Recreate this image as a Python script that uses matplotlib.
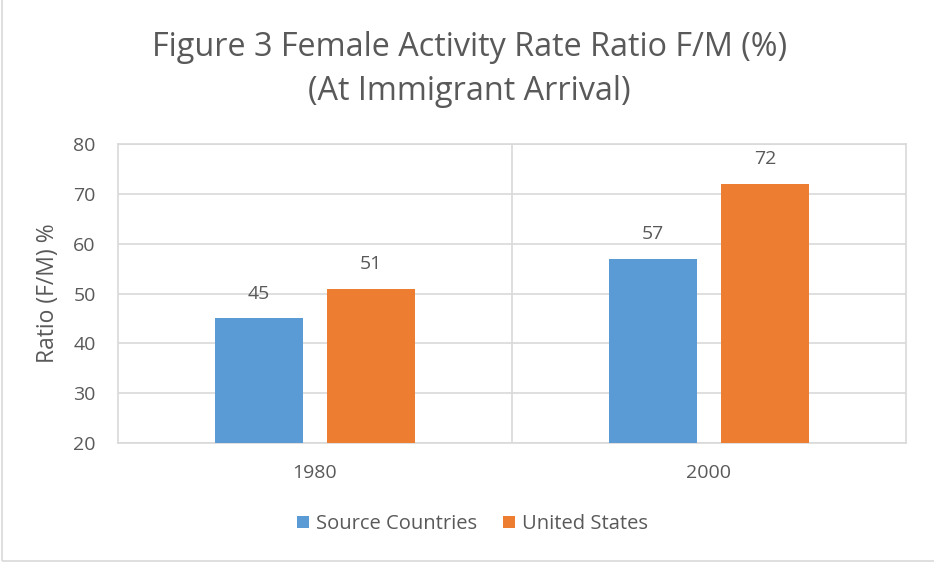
import matplotlib
matplotlib.use('Agg')
import matplotlib.pyplot as plt
import numpy as np
from matplotlib.patches import Rectangle

plt.rcParams['font.family'] = ['Open Sans', 'DejaVu Sans']

# Dados
anos = ['1980', '2000']
source_countries = [45, 57]
united_states = [51, 72]
yticks = [20, 30, 40, 50, 60, 70, 80]

cinza_texto = '#595959'
cinza_grade = '#d9d9d9'

fig = plt.figure(figsize=(9.34, 5.63), dpi=100)
ax = fig.add_axes([0.1263, 0.2131, 0.8437, 0.5311])

x = np.arange(len(anos))
width = 0.223
offset = 0.1418

bars1 = ax.bar(x - offset, source_countries, width, color='#5b9bd5',
               label='Source Countries', zorder=3)
bars2 = ax.bar(x + offset, united_states, width, color='#ed7d31',
               label='United States', zorder=3)

ax.set_xlim(-0.5, 1.5)
ax.set_ylim(20, 80)
ax.set_yticks(yticks)
ax.set_xticks(x)
ax.set_xticklabels(anos)
ax.tick_params(length=0, labelsize=14, colors=cinza_texto)
ax.tick_params(axis='y', pad=16)
ax.tick_params(axis='x', pad=15)
ax.grid(axis='y', color=cinza_grade, linewidth=1.2, zorder=0)
ax.axvline(0.5, color=cinza_grade, linewidth=1.2, zorder=0)
for s in ax.spines.values():
    s.set_color(cinza_grade)
    s.set_linewidth(1.2)

ax.set_ylabel('Ratio (F/M) %', fontsize=16.5, color=cinza_texto)
ax.yaxis.set_label_coords(-0.073, 0.5)

# Valores nas barras
for bars in [bars1, bars2]:
    for bar in bars:
        h = bar.get_height()
        ax.text(bar.get_x() + bar.get_width() / 2, h + 5.0, f'{h:.0f}',
                ha='center', va='center', fontsize=14, color=cinza_texto)

fig.text(0.503, 0.876, 'Figure 3 Female Activity Rate Ratio F/M (%)\n(At Immigrant Arrival)',
         ha='center', va='center', fontsize=23.3, color=cinza_texto,
         linespacing=1.45)

leg = fig.legend(loc='center', bbox_to_anchor=(0.506, 0.069), ncol=2,
                 frameon=False, fontsize=14.5, handlelength=0.6, handleheight=0.6,
                 columnspacing=1.3, handletextpad=0.35)
for t in leg.get_texts():
    t.set_color(cinza_texto)

# Borda do gráfico
fig.patches.append(Rectangle((0.002, 0.003), 1.2, 1.2, transform=fig.transFigure,
                             fill=False, edgecolor=cinza_grade, linewidth=1.2))

plt.savefig('out.png', dpi=100)
